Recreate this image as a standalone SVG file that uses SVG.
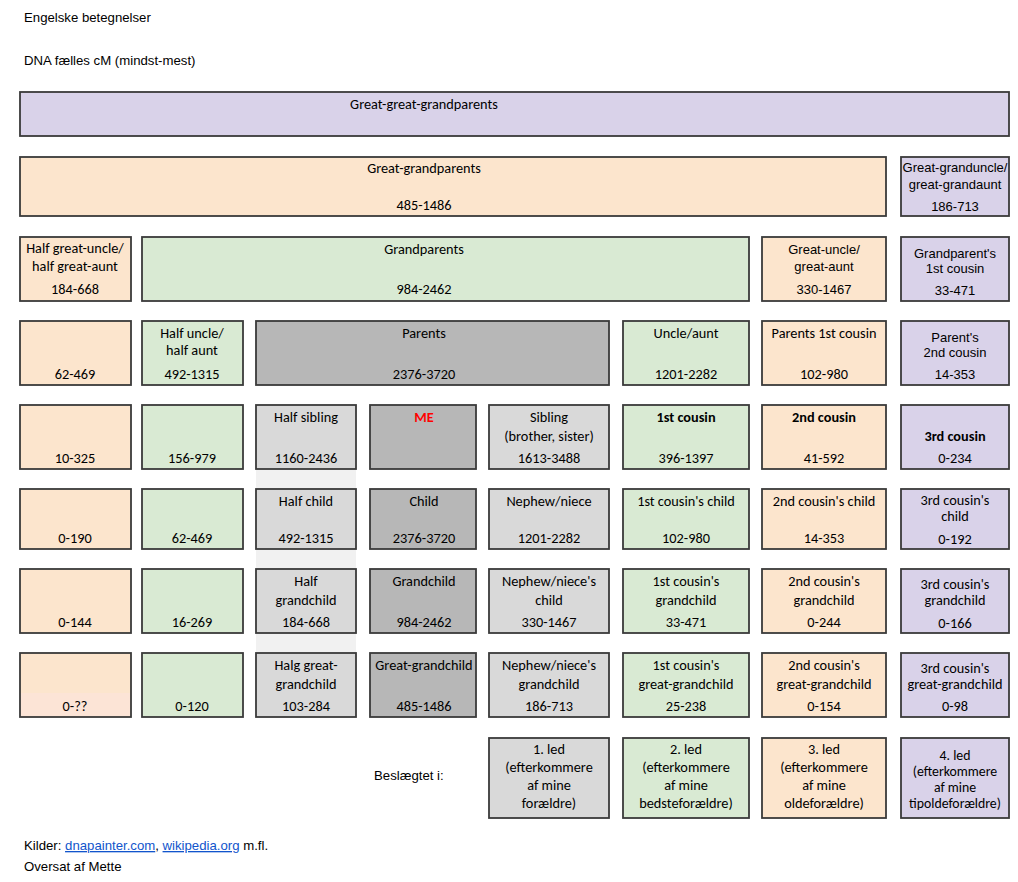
<svg xmlns="http://www.w3.org/2000/svg" width="1018" height="882" viewBox="0 0 1018 882">
<style>
.b{stroke:#3a3a3a;stroke-width:1.8}
.pu{fill:#d9d2e9}.pe{fill:#fce5cd}.gr{fill:#d9ead3}.dg{fill:#b7b7b7}.lg{fill:#d9d9d9}
text{fill:#000}
.c{font-family:Carlito,Lato,"Open Sans",sans-serif;font-size:14.3px;text-anchor:middle}
.s{font-size:13.8px}
.a{font-family:"Liberation Sans",Arial,sans-serif;font-size:13px;text-anchor:middle}
.l{font-family:"Liberation Sans",Arial,sans-serif;font-size:13.2px}
.bd{font-weight:bold}
.me{fill:#ff0000;font-weight:bold}
.lk{fill:#1155cc;text-decoration:underline}
</style>
<rect width="1018" height="882" fill="#ffffff"/>
<rect x="256" y="469" width="100" height="184" fill="#f1f1f1"/>
<text class="l" x="24" y="22">Engelske betegnelser</text>
<text class="l" x="24" y="65">DNA fælles cM (mindst-mest)</text>

<g id="gggp"><rect class="b pu" x="20" y="92" width="989" height="44"/><text class="c" x="424" y="109">Great-great-grandparents</text></g>

<g id="ggp"><rect class="b pe" x="20" y="157" width="866" height="59"/><text class="c" x="424" y="173">Great-grandparents</text><text class="c" x="424" y="210">485-1486</text></g>
<g id="ggu"><rect class="b pu" x="901" y="157" width="108" height="59"/><text class="a" x="955" y="172">Great-granduncle/</text><text class="a" x="955" y="189">great-grandaunt</text><text class="a" x="955" y="211">186-713</text></g>

<g id="hgu"><rect class="b pe" x="20" y="237" width="111" height="64"/><text class="c" x="75" y="253">Half great-uncle/</text><text class="c" x="75" y="271">half great-aunt</text><text class="c" x="75" y="294">184-668</text></g>
<g id="gp"><rect class="b gr" x="142" y="237" width="607" height="64"/><text class="c" x="424" y="254">Grandparents</text><text class="c" x="424" y="294">984-2462</text></g>
<g id="gu"><rect class="b pe" x="762" y="237" width="124" height="64"/><text class="a" x="824" y="254">Great-uncle/</text><text class="a" x="824" y="271">great-aunt</text><text class="a" x="824" y="294">330-1467</text></g>
<g id="gp1c"><rect class="b pu" x="901" y="237" width="108" height="64"/><text class="a" x="955" y="258">Grandparent's</text><text class="a" x="955" y="273">1st cousin</text><text class="a" x="955" y="295">33-471</text></g>

<g id="r3a"><rect class="b pe" x="20" y="321" width="111" height="64"/><text class="c" x="75" y="379">62-469</text></g>
<g id="hu"><rect class="b gr" x="142" y="321" width="101" height="64"/><text class="c" x="192" y="338">Half uncle/</text><text class="c" x="192" y="355">half aunt</text><text class="c" x="192" y="379">492-1315</text></g>
<g id="parents"><rect class="b dg" x="256" y="321" width="353" height="64"/><text class="c" x="424" y="338">Parents</text><text class="c" x="424" y="379">2376-3720</text></g>
<g id="ua"><rect class="b gr" x="623" y="321" width="126" height="64"/><text class="c" x="686" y="338">Uncle/aunt</text><text class="c" x="686" y="379">1201-2282</text></g>
<g id="p1c"><rect class="b pe" x="762" y="321" width="124" height="64"/><text class="c" x="824" y="338">Parents 1st cousin</text><text class="c" x="824" y="379">102-980</text></g>
<g id="p2c"><rect class="b pu" x="901" y="321" width="108" height="64"/><text class="a" x="955" y="342">Parent's</text><text class="a" x="955" y="357">2nd cousin</text><text class="a" x="955" y="379">14-353</text></g>

<g id="r4a"><rect class="b pe" x="20" y="405" width="111" height="64"/><text class="c" x="75" y="463">10-325</text></g>
<g id="r4b"><rect class="b gr" x="142" y="405" width="101" height="64"/><text class="c" x="192" y="463">156-979</text></g>
<g id="hs"><rect class="b lg" x="256" y="405" width="100" height="64"/><text class="c" x="306" y="422">Half sibling</text><text class="c" x="306" y="463">1160-2436</text></g>
<g id="me"><rect class="b dg" x="370" y="405" width="106" height="64"/><text class="c me" x="424" y="422">ME</text></g>
<g id="sib"><rect class="b lg" x="489" y="405" width="120" height="64"/><text class="c" x="549" y="422">Sibling</text><text class="c" x="549" y="441">(brother, sister)</text><text class="c" x="549" y="463">1613-3488</text></g>
<g id="c1"><rect class="b gr" x="623" y="405" width="126" height="64"/><text class="c bd" x="686" y="422">1st cousin</text><text class="c" x="686" y="463">396-1397</text></g>
<g id="c2"><rect class="b pe" x="762" y="405" width="124" height="64"/><text class="c bd" x="824" y="422">2nd cousin</text><text class="c" x="824" y="463">41-592</text></g>
<g id="c3"><rect class="b pu" x="901" y="405" width="108" height="64"/><text class="c bd" x="955" y="441">3rd cousin</text><text class="c" x="955" y="463">0-234</text></g>

<g id="r5a"><rect class="b pe" x="20" y="489" width="111" height="60"/><text class="c" x="75" y="543">0-190</text></g>
<g id="r5b"><rect class="b gr" x="142" y="489" width="101" height="60"/><text class="c" x="192" y="543">62-469</text></g>
<g id="hc"><rect class="b lg" x="256" y="489" width="100" height="60"/><text class="c" x="306" y="506">Half child</text><text class="c" x="306" y="543">492-1315</text></g>
<g id="child"><rect class="b dg" x="370" y="489" width="106" height="60"/><text class="c" x="424" y="506">Child</text><text class="c" x="424" y="543">2376-3720</text></g>
<g id="nn"><rect class="b lg" x="489" y="489" width="120" height="60"/><text class="c" x="549" y="506">Nephew/niece</text><text class="c" x="549" y="543">1201-2282</text></g>
<g id="c1c"><rect class="b gr" x="623" y="489" width="126" height="60"/><text class="c" x="686" y="506">1st cousin's child</text><text class="c" x="686" y="543">102-980</text></g>
<g id="c2c"><rect class="b pe" x="762" y="489" width="124" height="60"/><text class="c" x="824" y="506">2nd cousin's child</text><text class="c" x="824" y="543">14-353</text></g>
<g id="c3c"><rect class="b pu" x="901" y="489" width="108" height="60"/><text class="c" x="955" y="505">3rd cousin's</text><text class="c" x="955" y="521">child</text><text class="c" x="955" y="544">0-192</text></g>

<g id="r6a"><rect class="b pe" x="20" y="569" width="111" height="64"/><text class="c" x="75" y="627">0-144</text></g>
<g id="r6b"><rect class="b gr" x="142" y="569" width="101" height="64"/><text class="c" x="192" y="627">16-269</text></g>
<g id="hgc"><rect class="b lg" x="256" y="569" width="100" height="64"/><text class="c" x="306" y="586">Half</text><text class="c" x="306" y="605">grandchild</text><text class="c" x="306" y="627">184-668</text></g>
<g id="gc"><rect class="b dg" x="370" y="569" width="106" height="64"/><text class="c" x="424" y="586">Grandchild</text><text class="c" x="424" y="627">984-2462</text></g>
<g id="nnc"><rect class="b lg" x="489" y="569" width="120" height="64"/><text class="c" x="549" y="586">Nephew/niece's</text><text class="c" x="549" y="605">child</text><text class="c" x="549" y="627">330-1467</text></g>
<g id="c1gc"><rect class="b gr" x="623" y="569" width="126" height="64"/><text class="c" x="686" y="586">1st cousin's</text><text class="c" x="686" y="605">grandchild</text><text class="c" x="686" y="627">33-471</text></g>
<g id="c2gc"><rect class="b pe" x="762" y="569" width="124" height="64"/><text class="c" x="824" y="586">2nd cousin's</text><text class="c" x="824" y="605">grandchild</text><text class="c" x="824" y="627">0-244</text></g>
<g id="c3gc"><rect class="b pu" x="901" y="569" width="108" height="64"/><text class="c" x="955" y="589">3rd cousin's</text><text class="c" x="955" y="605">grandchild</text><text class="c" x="955" y="628">0-166</text></g>

<g id="r7a"><rect class="pe" x="20" y="653" width="111" height="64"/><rect x="20" y="693" width="111" height="24" fill="#fce4d6"/><rect class="b" fill="none" x="20" y="653" width="111" height="64"/><text class="c" x="75" y="711">0-??</text></g>
<g id="r7b"><rect class="b gr" x="142" y="653" width="101" height="64"/><text class="c" x="192" y="711">0-120</text></g>
<g id="hggc"><rect class="b lg" x="256" y="653" width="100" height="64"/><text class="c" x="306" y="670">Halg great-</text><text class="c" x="306" y="689">grandchild</text><text class="c" x="306" y="711">103-284</text></g>
<g id="ggc"><rect class="b dg" x="370" y="653" width="106" height="64"/><text class="c" x="424" y="670">Great-grandchild</text><text class="c" x="424" y="711">485-1486</text></g>
<g id="nngc"><rect class="b lg" x="489" y="653" width="120" height="64"/><text class="c" x="549" y="670">Nephew/niece's</text><text class="c" x="549" y="689">grandchild</text><text class="c" x="549" y="711">186-713</text></g>
<g id="c1ggc"><rect class="b gr" x="623" y="653" width="126" height="64"/><text class="c" x="686" y="670">1st cousin's</text><text class="c" x="686" y="689">great-grandchild</text><text class="c" x="686" y="711">25-238</text></g>
<g id="c2ggc"><rect class="b pe" x="762" y="653" width="124" height="64"/><text class="c" x="824" y="670">2nd cousin's</text><text class="c" x="824" y="689">great-grandchild</text><text class="c" x="824" y="711">0-154</text></g>
<g id="c3ggc"><rect class="b pu" x="901" y="653" width="108" height="64"/><text class="c" x="955" y="673">3rd cousin's</text><text class="c" x="955" y="689">great-grandchild</text><text class="c" x="955" y="711">0-98</text></g>

<text class="l" x="374" y="780">Beslægtet i:</text>
<g id="led1"><rect class="b lg" x="489" y="738" width="120" height="80"/><text class="c" x="549" y="754">1. led</text><text class="c" x="549" y="772">(efterkommere</text><text class="c" x="549" y="790">af mine</text><text class="c" x="549" y="808">forældre)</text></g>
<g id="led2"><rect class="b gr" x="623" y="738" width="126" height="80"/><text class="c" x="686" y="754">2. led</text><text class="c" x="686" y="772">(efterkommere</text><text class="c" x="686" y="790">af mine</text><text class="c" x="686" y="808">bedsteforældre)</text></g>
<g id="led3"><rect class="b pe" x="762" y="738" width="124" height="80"/><text class="c" x="824" y="754">3. led</text><text class="c" x="824" y="772">(efterkommere</text><text class="c" x="824" y="790">af mine</text><text class="c" x="824" y="808">oldeforældre)</text></g>
<g id="led4"><rect class="b pu" x="901" y="738" width="108" height="80"/><text class="c s" x="955" y="760">4. led</text><text class="c s" x="955" y="776">(efterkommere</text><text class="c s" x="955" y="792">af mine</text><text class="c s" x="955" y="808">tipoldeforældre)</text></g>

<g id="connectors"/>
<text class="l" x="24" y="850">Kilder: <tspan class="lk">dnapainter.com</tspan>, <tspan class="lk">wikipedia.org</tspan> m.fl.</text>
<text class="l" x="24" y="871">Oversat af Mette</text>
</svg>
